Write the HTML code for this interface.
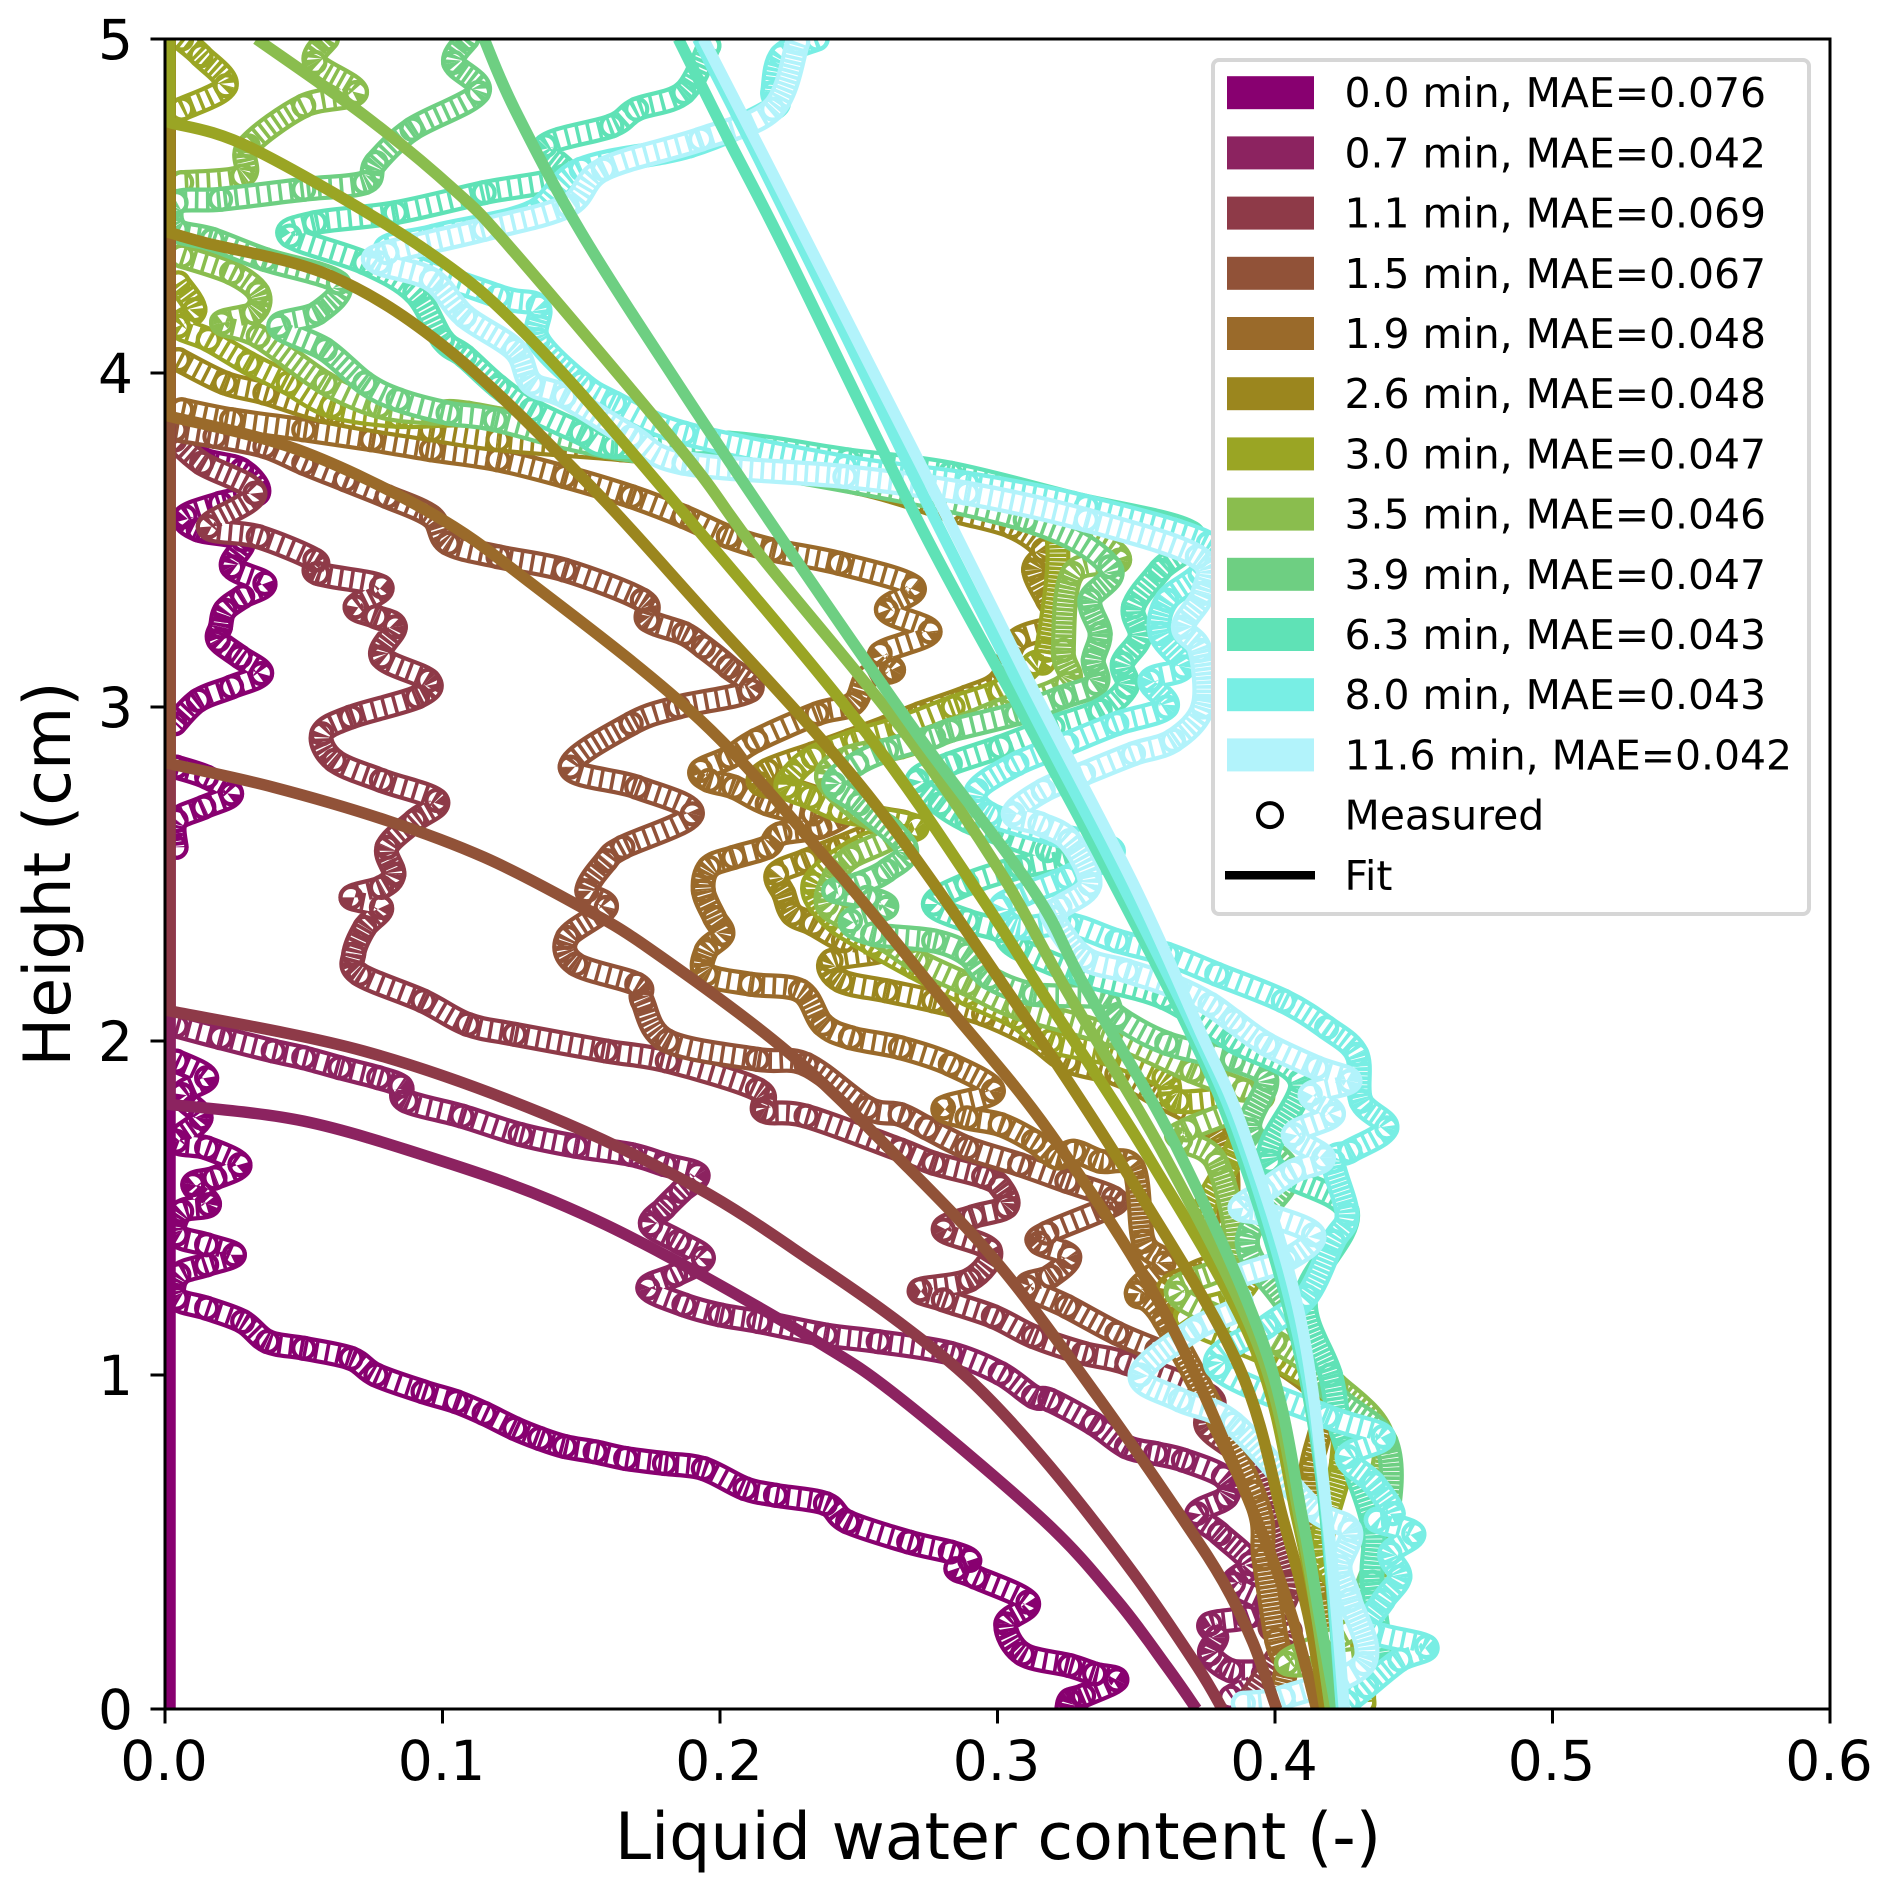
<!DOCTYPE html>
<html lang="en">
<head>
<meta charset="utf-8">
<title>Liquid water content profiles</title>
<style>
html,body{margin:0;padding:0;background:#fff;}
#chart{display:block;width:1892px;height:1893px;font-family:"DejaVu Sans","Liberation Sans",sans-serif;}
</style>
</head>
<body>
<svg id="chart" xmlns="http://www.w3.org/2000/svg" width="1892" height="1893" viewBox="0 0 1892 1893">
<defs><clipPath id="plot-clip"><rect x="165" y="39" width="1665" height="1670"></rect></clipPath></defs>
<rect x="0" y="0" width="1892" height="1893" fill="#fff"></rect>
<g id="rings" clip-path="url(#plot-clip)"></g>
<g id="fits" clip-path="url(#plot-clip)"></g>
<rect x="165" y="39" width="1665" height="1670" fill="none" stroke="#000" stroke-width="3"></rect>
<g id="xaxis"></g>
<g id="yaxis"></g>
<text x="998" y="1859" font-size="65" text-anchor="middle" fill="#000">Liquid water content (-)</text>
<text transform="translate(70,874) rotate(-90)" font-size="65" text-anchor="middle" fill="#000">Height (cm)</text>
<g id="legend"></g>
</svg>
<script>
const xTicks=[0,0.1,0.2,0.3,0.4,0.5,0.6];
const yTicks=[0,1,2,3,4,5];
const seriesTimes=["0.0","0.7","1.1","1.5","1.9","2.6","3.0","3.5","3.9","6.3","8.0","11.6"];
const seriesMae=["0.076","0.042","0.069","0.067","0.048","0.048","0.047","0.046","0.047","0.043","0.043","0.042"];
const palette=["#880070","#8c2360","#8e3a48","#915238","#9a6a2a","#9b861e","#9aa524","#8abd4e","#6ecf82","#5fe2b6","#78eee4","#b2f3fb"];

const fit00=[[.0018,5],[.0018,0]];
const fit07=[[.0018,5],[.0018,1.81],[.05,1.76],[.1,1.64],[.14,1.52],[.18,1.36],[.235,1.1],[.265,.93],[.3165,.566],[.343,.326],[.361,.127],[.3717,0]];
const fit11=[[.0018,5],[.0018,2.09],[.0716,1.97],[.137,1.78],[.192,1.56],[.235,1.33],[.265,1.155],[.292,.97],[.319,.725],[.349,.406],[.372,.127],[.381,0]];
const fit15=[[.0018,5],[.0018,2.83],[.039,2.76],[.08,2.66],[.115,2.55],[.148,2.41],[.174,2.28],[.224,1.97],[.265,1.644],[.301,1.325],[.337,.925],[.367,.566],[.3814,.38],[.392,.2],[.4006,0]];
const fit19=[[.0018,5],[.0018,3.87],[.048,3.77],[.096,3.58],[.132,3.37],[.193,2.96],[.241,2.52],[.2805,2.12],[.319,1.724],[.361,1.175],[.3934,.566],[.406,.28],[.415,0]];
const fit26=[[.0018,5],[.0018,4.42],[.0144,4.39],[.06,4.29],[.102,4.07],[.15,3.69],[.193,3.3],[.253,2.74],[.306,2.12],[.349,1.574],[.387,1.025],[.403,.566],[.412,.28],[.418,0]];
const fit30=[[.0018,5],[.0018,4.75],[.032,4.67],[.094,4.368],[.132,4.10],[.187,3.58],[.253,2.92],[.295,2.42],[.3165,2.14],[.355,1.644],[.393,1.075],[.408,.566],[.415,.28],[.42,0]];
const fit35=[[.033,5],[.072,4.77],[.104,4.55],[.125,4.37],[.187,3.76],[.213,3.47],[.265,2.94],[.3,2.52],[.325,2.15],[.361,1.644],[.395,1.065],[.409,.566],[.415,.28],[.42,0]];
const fit39=[[.115,5],[.126,4.79],[.15,4.42],[.187,3.94],[.225,3.47],[.271,2.92],[.313,2.45],[.331,2.17],[.365,1.674],[.397,1.065],[.41,.566],[.416,.28],[.422,0]];
const fit63=[[.185,5],[.203,4.70],[.224,4.36],[.273,3.53],[.313,2.92],[.337,2.55],[.368,2.05],[.385,1.724],[.404,1.225],[.416,.726],[.424,0]];
const fit80=[[.192,5],[.214,4.64],[.246,4.1],[.277,3.57],[.313,2.98],[.34,2.55],[.37,2.05],[.388,1.7],[.406,1.2],[.417,.7],[.424,0]];
const fit116=[[.194,5],[.22,4.58],[.253,4.04],[.283,3.55],[.313,3.05],[.349,2.47],[.373,2.03],[.389,1.724],[.409,1.175],[.419,.566],[.425,0]];

const meas00=[[.004,3.79],[.014,3.74],[.0276,3.71],[.0336,3.64],[.02,3.61],[.0072,3.57],[.012,3.53],[.028,3.5],[.024,3.42],[.036,3.37],[.028,3.33],[.0216,3.29],[.02,3.24],[.0192,3.2],[.027,3.15],[.0348,3.1],[.024,3.06],[.012,3.02],[.0036,2.95],
[.004,2.82],[.015,2.79],[.024,2.74],[.014,2.7],[.004,2.66],[.004,2.58],
[.004,1.94],[.015,1.89],[.006,1.84],[.013,1.77],[.004,1.7],[.015,1.68],[.027,1.63],[.018,1.59],[.01,1.57],[.016,1.51],[.006,1.49],[.004,1.42],[.015,1.39],[.025,1.36],[.015,1.33],[.005,1.3],[.004,1.23],[.015,1.2],[.028,1.16],[.037,1.1],[.05,1.08],[.067,1.05],[.076,1],[.093,.95],[.105,.92],[.115,.885],[.126,.84],[.135,.81],[.144,.786],[.155,.77],[.166,.75],[.18,.735],[.194,.72],[.209,.66],[.22,.64],[.238,.615],[.246,.56],[.268,.5],[.283,.47],[.29,.445],[.285,.42],[.292,.395],[.311,.32],[.303,.255],[.309,.165],[.326,.13],[.335,.105],[.343,.087],[.331,.04],[.326,.027],[.325,0]];

const meas07=[[.004,2.045],[.02,2.01],[.039,1.97],[.05,1.95],[.063,1.92],[.077,1.89],[.085,1.865],[.087,1.82],[.107,1.775],[.128,1.72],[.148,1.685],[.168,1.66],[.18,1.63],[.192,1.6],[.186,1.55],[.18,1.5],[.175,1.45],[.185,1.4],[.194,1.35],[.184,1.3],[.174,1.26],[.187,1.21],[.2,1.18],[.214,1.16],[.238,1.12],[.257,1.1],[.283,1.065],[.301,1.005],[.313,.935],[.3189,.925],[.3345,.855],[.3465,.785],[.357,.765],[.367,.745],[.3814,.695],[.3826,.635],[.3718,.585],[.38,.525],[.391,.435],[.385,.375],[.397,.315],[.39,.275],[.3765,.255],[.379,.215],[.3765,.165],[.384,.115],[.3958,.105],[.384,.035]];

const meas11=[[.0036,3.8],[.0132,3.73],[.0324,3.64],[.0156,3.54],[.0336,3.51],[.054,3.44],[.055,3.4],[.078,3.36],[.0685,3.3],[.076,3.27],[.083,3.24],[.078,3.15],[.095,3.08],[.091,3.03],[.067,2.97],[.0565,2.92],[.061,2.84],[.078,2.78],[.098,2.72],[.09,2.66],[.08,2.58],[.0825,2.5],[.078,2.46],[.067,2.43],[.078,2.4],[.072,2.34],[.068,2.26],[.07,2.2],[.093,2.12],[.109,2.05],[.126,2.02],[.159,1.97],[.181,1.94],[.2135,1.855],[.216,1.79],[.231,1.775],[.2649,1.674],[.277,1.634],[.295,1.594],[.301,1.564],[.3033,1.504],[.2913,1.474],[.2805,1.434],[.2973,1.374],[.29,1.285],[.272,1.255],[.2805,1.225],[.2985,1.175],[.313,1.115],[.331,1.065],[.3466,1.035],[.3766,.935],[.3754,.845],[.391,.735],[.3982,.575],[.4054,.375],[.3982,.245],[.4054,.225],[.39,.02]];

const meas15=[[.0036,3.83],[.018,3.81],[.036,3.78],[.05,3.73],[.065,3.68],[.08,3.63],[.096,3.57],[.102,3.49],[.12,3.45],[.144,3.41],[.172,3.32],[.174,3.26],[.187,3.22],[.194,3.18],[.203,3.12],[.211,3.05],[.185,3],[.168,2.95],[.146,2.82],[.17,2.76],[.19,2.68],[.165,2.58],[.159,2.54],[.152,2.45],[.159,2.4],[.145,2.31],[.148,2.23],[.17,2.17],[.172,2.12],[.181,2],[.2135,1.945],[.231,1.93],[.253,1.8],[.2649,1.78],[.2745,1.74],[.289,1.68],[.308,1.63],[.325,1.58],[.3418,1.53],[.3394,1.5],[.3178,1.425],[.315,1.395],[.326,1.355],[.319,1.295],[.3105,1.265],[.325,1.205],[.343,1.125],[.3574,1.075]];

const meas19=[[.006,3.89],[.024,3.86],[.05,3.83],[.0745,3.8],[.096,3.77],[.12,3.74],[.144,3.69],[.168,3.63],[.187,3.57],[.203,3.51],[.219,3.47],[.243,3.43],[.2697,3.36],[.26,3.29],[.2757,3.225],[.2577,3.16],[.2625,3.11],[.253,3.09],[.248,3.01],[.235,2.98],[.213,2.9],[.2036,2.85],[.193,2.81],[.196,2.78],[.205,2.76],[.217,2.71],[.2336,2.68],[.2445,2.68],[.236,2.64],[.2216,2.62],[.217,2.58],[.205,2.55],[.196,2.52],[.194,2.45],[.198,2.37],[.201,2.32],[.195,2.27],[.195,2.2],[.211,2.17],[.229,2.15],[.237,2.05],[.247,2.01],[.265,1.98],[.283,1.93],[.2985,1.85],[.2805,1.8],[.289,1.77],[.301,1.75],[.313,1.7],[.3214,1.65],[.3274,1.67],[.337,1.64],[.349,1.62],[.3526,1.4],[.36,1.335],[.35,1.245],[.36,1.165],[.392,.65],[.396,.45],[.4006,.206],[.404,.13],[.401,.02]];

const meas26=[[.0048,4.04],[.0216,3.97],[.036,3.94],[.06,3.88],[.096,3.83],[.12,3.8],[.1646,3.77],[.2,3.74],[.25,3.67],[.283,3.59],[.305,3.54],[.3165,3.47],[.313,3.41],[.318,3.32],[.3225,3.25],[.307,3.2],[.301,3.08],[.289,3.03],[.272,2.98],[.26,2.94],[.247,2.9],[.2336,2.86],[.217,2.81],[.2144,2.77],[.2264,2.75],[.241,2.71],[.2565,2.67],[.267,2.65],[.255,2.62],[.243,2.58],[.231,2.54],[.2204,2.5],[.223,2.44],[.226,2.38],[.2336,2.35],[.2445,2.3],[.2577,2.27],[.24,2.24],[.2435,2.18],[.26,2.15],[.277,2.12],[.295,2.08],[.313,2.01],[.325,1.94],[.343,1.9],[.357,1.84],[.378,1.73],[.383,1.55],[.376,1.48],[.387,1.37],[.37,1.3],[.363,1.23],[.4,1.05],[.417,.92],[.413,.72],[.413,.56],[.415,.36],[.42,.1],[.432,.015]];

const meas30=[[.006,5],[.013,4.95],[.022,4.86],[.006,4.79],[.0048,4.27],[.0108,4.19],[.0048,4.14],[.0156,4.1],[.03,4.03],[.0444,3.97],[.06,3.9],[.084,3.87],[.114,3.87],[.159,3.8],[.2,3.74],[.25,3.7],[.29,3.64],[.32,3.55],[.3177,3.17],[.313,3.13],[.301,3.05],[.284,3],[.265,2.94],[.249,2.9],[.2336,2.85],[.2264,2.8],[.224,2.76],[.2324,2.73],[.2433,2.69],[.2553,2.67],[.271,2.64],[.26,2.61],[.248,2.57],[.2336,2.47],[.24,2.37],[.255,2.29],[.27,2.22],[.289,2.14],[.307,2.07],[.319,2],[.34,1.96],[.36,1.89],[.365,1.82],[.391,1.82],[.385,1.66],[.374,1.46],[.391,1.33],[.385,1.23],[.368,1.17],[.4,1.05],[.422,.92],[.424,.74],[.417,.47],[.43,.29],[.432,.02]];

const meas35=[[.0585,5],[.054,4.93],[.069,4.84],[.05,4.8],[.03,4.68],[.028,4.59],[.006,4.57],[.006,4.35],[.024,4.3],[.0336,4.24],[.032,4.18],[.0204,4.15],[.0336,4.11],[.0577,3.97],[.077,3.9],[.096,3.88],[.109,3.88],[.159,3.8],[.2,3.75],[.25,3.68],[.3,3.6],[.33,3.52],[.344,3.44],[.327,3.4],[.3237,3.17],[.325,3.07],[.301,2.99],[.283,2.93],[.265,2.88],[.247,2.85],[.2384,2.79],[.25,2.69],[.2625,2.62],[.247,2.55],[.241,2.49],[.2384,2.41],[.247,2.36],[.26,2.3],[.271,2.24],[.289,2.17],[.307,2.1],[.34,2.02],[.37,1.91],[.3886,1.853],[.3946,1.824],[.3682,1.734],[.366,1.704],[.379,1.634],[.385,1.355],[.3646,1.245],[.4,1.1],[.422,.97],[.439,.81],[.435,.56],[.435,.29],[.4042,.137],[.443,.165]];

const meas39=[[.109,5],[.104,4.93],[.113,4.84],[.089,4.73],[.076,4.63],[.072,4.57],[.05,4.55],[.02,4.52],[.004,4.51],[.004,4.43],[.017,4.4],[.036,4.34],[.0625,4.27],[.055,4.18],[.041,4.14],[.0577,4.07],[.072,3.97],[.084,3.92],[.102,3.88],[.119,3.86],[.159,3.78],[.23,3.7],[.31,3.56],[.3405,3.42],[.3333,3.32],[.337,3.22],[.3345,3.14],[.3357,3.07],[.3237,3.03],[.307,2.98],[.283,2.93],[.277,2.91],[.26,2.87],[.2493,2.83],[.241,2.77],[.25,2.71],[.267,2.58],[.26,2.51],[.25,2.47],[.241,2.45],[.253,2.43],[.26,2.4],[.247,2.36],[.255,2.32],[.277,2.3],[.289,2.26],[.297,2.19],[.313,2.14],[.337,2.13],[.343,2.073],[.361,1.993],[.385,1.943],[.397,1.884],[.391,1.734],[.405,1.6],[.39,1.4],[.405,1.2],[.4199,.955],[.44,.8],[.44,.55],[.43,.3]];

const meas63=[[.196,4.98],[.187,4.84],[.17,4.79],[.161,4.74],[.137,4.68],[.144,4.59],[.115,4.54],[.083,4.48],[.054,4.45],[.045,4.41],[.072,4.33],[.09,4.24],[.1,4.1],[.108,4.05],[.12,3.96],[.132,3.89],[.15,3.82],[.162,3.78],[.203,3.79],[.246,3.74],[.283,3.7],[.327,3.61],[.37,3.52],[.3586,3.41],[.349,3.3],[.3514,3.21],[.345,3.13],[.3466,3.06],[.337,2.99],[.32,2.94],[.301,2.88],[.283,2.83],[.271,2.78],[.2793,2.71],[.289,2.66],[.301,2.62],[.318,2.57],[.325,2.55],[.308,2.52],[.289,2.47],[.2769,2.41],[.289,2.36],[.301,2.33],[.307,2.28],[.33,2.2],[.36,2.13],[.385,2],[.409,1.88],[.398,1.64],[.426,1.49],[.411,1.23],[.42,1],[.424,.83],[.435,.56],[.435,.38],[.439,.13]];

const meas80=[[.235,5],[.222,4.95],[.219,4.84],[.219,4.79],[.189,4.68],[.15,4.61],[.132,4.48],[.097,4.41],[.08,4.36],[.12,4.23],[.1345,4.2],[.1345,4.1],[.15,3.97],[.162,3.91],[.187,3.82],[.245,3.72],[.289,3.67],[.332,3.6],[.376,3.49],[.373,3.4],[.361,3.32],[.3586,3.22],[.367,3.12],[.355,3.08],[.361,3],[.343,2.95],[.325,2.89],[.307,2.83],[.2925,2.75],[.297,2.68],[.32,2.62],[.3417,2.57],[.325,2.49],[.31,2.44],[.301,2.4],[.307,2.34],[.325,2.35],[.343,2.3],[.361,2.26],[.379,2.2],[.403,2.12],[.4186,2.04],[.4295,1.96],[.431,1.82],[.4403,1.74],[.427,1.67],[.421,1.64],[.426,1.48],[.421,1.4],[.4114,1.235],[.397,1.145],[.379,1.025],[.4187,.876],[.439,.816],[.426,.756],[.4355,.676],[.4426,.585],[.4366,.565],[.45,.525],[.4414,.466],[.445,.396],[.439,.325],[.4342,.237],[.4546,.187],[.445,.147],[.433,.067],[.426,.02]];

const meas116=[[.228,4.99],[.219,4.79],[.193,4.7],[.158,4.61],[.145,4.5],[.115,4.43],[.08,4.36],[.077,4.33],[.096,4.28],[.108,4.17],[.126,4.07],[.132,3.97],[.144,3.93],[.168,3.81],[.187,3.73],[.245,3.69],[.289,3.64],[.332,3.56],[.372,3.45],[.374,3.34],[.367,3.24],[.373,3.17],[.374,3],[.3634,2.9],[.349,2.86],[.331,2.8],[.3165,2.75],[.3057,2.68],[.3153,2.65],[.326,2.6],[.3333,2.47],[.3225,2.4],[.32,2.37],[.331,2.25],[.3465,2.21],[.3646,2.16],[.3766,2.11],[.385,2.06],[.397,1.99],[.415,1.92],[.427,1.88],[.4127,1.84],[.421,1.78],[.4066,1.72],[.4175,1.65],[.4066,1.61],[.396,1.55],[.3874,1.5],[.397,1.48],[.4139,1.42],[.4042,1.345],[.385,1.285],[.3874,1.205],[.3706,1.135],[.3514,1],[.3658,.925],[.385,.855],[.4126,.606],[.427,.536],[.4234,.426],[.427,.326],[.432,.136],[.403,.035],[.3886,.017]];

const measuredSeries=[meas00,meas07,meas11,meas15,meas19,meas26,meas30,meas35,meas39,meas63,meas80,meas116];
const fitSeries=[fit00,fit07,fit11,fit15,fit19,fit26,fit30,fit35,fit39,fit63,fit80,fit116];

const NS='http://www.w3.org/2000/svg';
const plotLeft=165,plotRight=1830,plotTop=39,plotBottom=1709;
const xMax=0.6,yMax=5;
function xScale(v){return plotLeft+v/xMax*(plotRight-plotLeft);}
function yScale(v){return plotBottom-v/yMax*(plotBottom-plotTop);}
function make(tag,attrs,parent){
  const el=document.createElementNS(NS,tag);
  for(const k in attrs){el.setAttribute(k,attrs[k]);}
  parent.appendChild(el);
  return el;
}
function toPixels(points){
  return points.map(function(p){return [xScale(p[0]),yScale(p[1])];});
}
function bezierSegment(pts,i,first,last){
  const p0=pts[Math.max(i-1,first)],p1=pts[i],p2=pts[i+1],p3=pts[Math.min(i+2,last)];
  const c1x=p1[0]+(p2[0]-p0[0])/6,c1y=p1[1]+(p2[1]-p0[1])/6;
  const c2x=p2[0]-(p3[0]-p1[0])/6,c2y=p2[1]-(p3[1]-p1[1])/6;
  return ' C'+c1x+' '+c1y+' '+c2x+' '+c2y+' '+p2[0]+' '+p2[1];
}
function fitPath(points){
  const pts=toPixels(points);
  let start=0;
  while(start<points.length-1&&points[start][0]<0.002&&points[start+1][0]<0.002){start++;}
  let d='M'+pts[0][0]+' '+pts[0][1];
  for(let i=1;i<=start;i++){d+=' L'+pts[i][0]+' '+pts[i][1];}
  for(let i=start;i<pts.length-1;i++){d+=bezierSegment(pts,i,start,pts.length-1);}
  return d;
}
function chainRuns(points){
  const runs=[];
  let first=0;
  for(let i=1;i<=points.length;i++){
    const prev=points[i-1],cur=points[i];
    const broken=!cur||(prev[0]<=0.0065&&cur[0]<=0.0065&&Math.abs(prev[1]-cur[1])>0.1);
    if(broken){runs.push([first,i-1]);first=i;}
  }
  return runs;
}
const ringLayer=document.getElementById('rings');
const fitLayer=document.getElementById('fits');
measuredSeries.forEach(function(series,i){
  const g=make('g',{fill:'none',stroke:palette[i],'stroke-width':4.2},ringLayer);
  
  
  const pts=toPixels(series);
  let d='';
  const runs=chainRuns(series);
  runs.forEach(function(run){
    d+='M'+pts[run[0]][0]+' '+pts[run[0]][1];
    for(let k=run[0];k<run[1];k++){d+=bezierSegment(pts,k,run[0],run[1]);}
  });
  const outer=make('path',{d:d,fill:'none',stroke:palette[i],'stroke-width':25,'stroke-linecap':'round','stroke-linejoin':'round'},g);
  
  
  const inner=make('path',{d:d,fill:'none',stroke:'#fff','stroke-width':16.6,'stroke-linecap':'round','stroke-linejoin':'round'},g);
  
  
  runs.forEach(function(run){
    for(let k=run[0];k<run[1];k++){
      const dx=pts[k+1][0]-pts[k][0],dy=pts[k+1][1]-pts[k][1];
      const len=Math.sqrt(dx*dx+dy*dy)||1;
      const steep=Math.abs(dy)/len;
      const period=Math.max(4.4,Math.min(11,4.4/Math.max(steep,0.1)));
      const seg=make('path',{d:'M'+pts[k][0]+' '+pts[k][1]+bezierSegment(pts,k,run[0],run[1]),fill:'none',stroke:palette[i],'stroke-width':17,'stroke-dasharray':'3.6 '+(period-3.6)},g);
      
      
    }
  });
  series.forEach(function(p){
    const c=make('circle',{cx:xScale(p[0]),cy:yScale(p[1]),r:10.5},g);
    
    
  });
});
fitSeries.forEach(function(series,i){
  const line=make('path',{d:fitPath(series),fill:'none',stroke:palette[i],'stroke-width':11.5},fitLayer);
  
  
});
const xAxis=document.getElementById('xaxis');
xTicks.forEach(function(t){
  const x=xScale(t);
  const tick=make('line',{x1:x,x2:x,y1:plotBottom,y2:plotBottom+14.5,stroke:'#000','stroke-width':3},xAxis);
  
  
  const label=make('text',{x:x-1,y:1780,'font-size':55,'text-anchor':'middle',fill:'#000'},xAxis);
  label.textContent=t.toFixed(1);
  
  
});
const yAxis=document.getElementById('yaxis');
yTicks.forEach(function(t){
  const y=yScale(t);
  const tick=make('line',{x1:plotLeft-14.5,x2:plotLeft,y1:y,y2:y,stroke:'#000','stroke-width':3},yAxis);
  
  
  const label=make('text',{x:133,y:y+20,'font-size':55,'text-anchor':'end',fill:'#000'},yAxis);
  label.textContent=String(t);
  
  
});
const legend=document.getElementById('legend');
const legendBox=make('rect',{x:1213,y:60,width:596,height:854,rx:6,ry:6,fill:'#fff',stroke:'#d6d6d6','stroke-width':4},legend);


const legendRowStart=92.7,legendRowGap=60.2;
seriesTimes.forEach(function(time,i){
  const y=legendRowStart+i*legendRowGap;
  const swatch=make('rect',{x:1227,y:y-16.5,width:87,height:33,fill:palette[i]},legend);
  
  
  const text=make('text',{x:1344.5,y:y+14.5,'font-size':40.9,fill:'#000'},legend);
  text.textContent=time+' min, MAE='+seriesMae[i];
  
  
});
const measuredY=legendRowStart+12*legendRowGap;
const measuredMarker=make('circle',{cx:1270,cy:measuredY,r:12,fill:'#fff',stroke:'#000','stroke-width':4},legend);


const measuredText=make('text',{x:1344.5,y:measuredY+14.5,'font-size':40.9,fill:'#000'},legend);
measuredText.textContent='Measured';


const fitY=legendRowStart+13*legendRowGap;
const fitMarker=make('line',{x1:1225,x2:1315,y1:fitY,y2:fitY,stroke:'#000','stroke-width':8.5},legend);


const fitText=make('text',{x:1344.5,y:fitY+14.5,'font-size':40.9,fill:'#000'},legend);
fitText.textContent='Fit';


</script>
</body>
</html>
